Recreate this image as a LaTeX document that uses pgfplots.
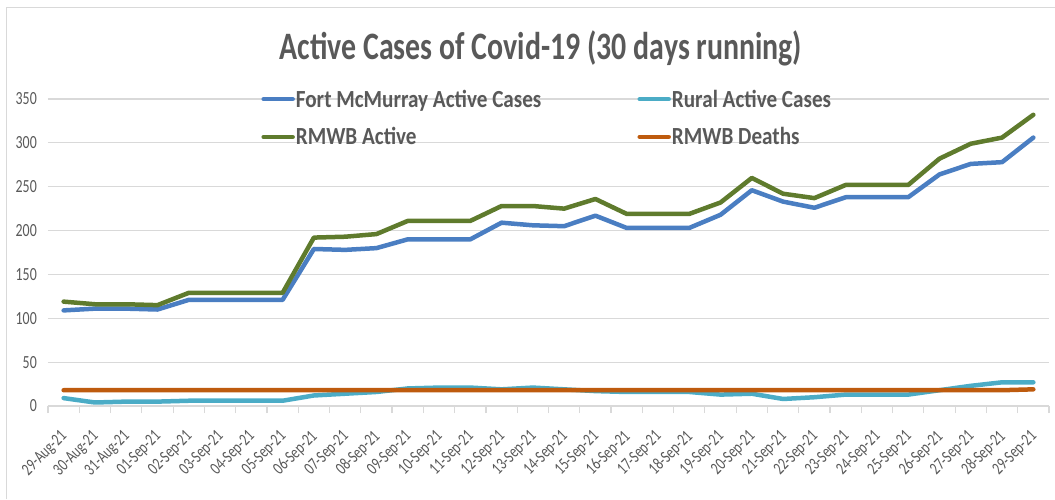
\documentclass[border=0pt]{standalone}
\usepackage{pgfplots}
\usepackage{pgfplotstable}
\pgfplotsset{compat=1.18}
\usepackage{fontspec}
\setmainfont{Carlito}
\newfontfamily\titlefont[FakeStretch=0.77]{Carlito}
\newfontfamily\legfont[FakeStretch=0.86]{Carlito}
\newfontfamily\tickfont[FakeStretch=0.75]{Carlito}
\definecolor{fmblue}{HTML}{4A7EC2}
\definecolor{rural}{HTML}{4BACC6}
\definecolor{rmgreen}{HTML}{5F7B2D}
\definecolor{death}{HTML}{BE5B0E}
\definecolor{txt}{HTML}{595959}
\definecolor{gridc}{HTML}{D9D9D9}

\pgfplotstableread{
idx fm rural rmwb deaths
0 109 9 119 18
1 111 4 116 18
2 111 5 116 18
3 110 5 115 18
4 121 6 129 18
5 121 6 129 18
6 121 6 129 18
7 121 6 129 18
8 179 12 192 18
9 178 14 193 18
10 180 16 196 18
11 190 20 211 18
12 190 21 211 18
13 190 21 211 18
14 209 19 228 18
15 206 21 228 18
16 205 19 225 18
17 217 17 236 18
18 203 16 219 18
19 203 16 219 18
20 203 16 219 18
21 218 13 232 18
22 246 14 260 18
23 233 8 242 18
24 226 10 237 18
25 238 13 252 18
26 238 13 252 18
27 238 13 252 18
28 264 18 282 18
29 276 23 299 18
30 278 27 306 18
31 306 27 332 19
}\datatable

\begin{document}
\begin{tikzpicture}[x=1pt,y=1pt]
\useasboundingbox (0,0) rectangle (1055,499);
\draw[gridc, line width=1pt] (6,0) -- (6,491) -- (1055,491);
\begin{axis}[
  at={(48pt,93pt)}, anchor=south west,
  scale only axis, width=1001pt, height=307pt,
  xmin=-0.5, xmax=31.5, ymin=0, ymax=350,
  ytick={0,50,...,350},
  xtick={0,...,31},
  xticklabels={29-Aug-21,30-Aug-21,31-Aug-21,01-Sep-21,02-Sep-21,03-Sep-21,04-Sep-21,05-Sep-21,06-Sep-21,07-Sep-21,08-Sep-21,09-Sep-21,10-Sep-21,11-Sep-21,12-Sep-21,13-Sep-21,14-Sep-21,15-Sep-21,16-Sep-21,17-Sep-21,18-Sep-21,19-Sep-21,20-Sep-21,21-Sep-21,22-Sep-21,23-Sep-21,24-Sep-21,25-Sep-21,26-Sep-21,27-Sep-21,28-Sep-21,29-Sep-21},
  minor xtick={-0.5,0.5,...,31.5},
  axis x line*=bottom, axis y line*=left,
  x axis line style={-, gridc, line width=1.3pt},
  y axis line style={draw=none},
  ymajorgrids, grid style={gridc, line width=1.2pt},
  major tick length=0pt, minor tick length=7pt, tick align=outside,
  major x tick style={draw=none},
  minor x tick style={gridc, line width=1.2pt},
  ytick style={draw=none},
  /pgf/number format/assume math mode=true,
  yticklabel style={font=\tickfont\fontsize{18.5}{20}\selectfont, text=txt, anchor=east, inner sep=0pt, xshift=-11pt},
  xticklabel style={font=\tickfont\fontsize{17.5}{19}\selectfont, text=txt, xshift=1pt, yshift=-28pt, rotate=45, anchor=east, inner sep=0pt},
  title={Active Cases of Covid-19 (30 days running)},
  title style={at={(0.4925,1.146)}, anchor=center, font=\titlefont\bfseries\fontsize{38.8}{40}\selectfont, text=txt},
  legend columns=2,
  legend style={draw=none, fill=none, at={(0.213,1.034)}, anchor=north west, inner sep=0pt,
    font=\legfont\bfseries\fontsize{24.6}{26}\selectfont, text=txt,
    nodes={inner sep=1pt},
    /tikz/every even column/.append style={column sep=95pt},
    row sep=17pt, cells={anchor=west}},
  legend image code/.code={\draw[#1] (0pt,0pt) -- (29pt,0pt);},
  every axis plot/.append style={line width=4.5pt, line join=round, line cap=round},
]
\addplot[fmblue, mark=none] table[x=idx, y=fm] {\datatable};
\addlegendentry{Fort McMurray Active Cases}
\addplot[rural, mark=none] table[x=idx, y=rural] {\datatable};
\addlegendentry{Rural Active Cases}
\addplot[rmgreen, mark=none] table[x=idx, y=rmwb] {\datatable};
\addlegendentry{RMWB Active}
\addplot[death, mark=none] table[x=idx, y=deaths] {\datatable};
\addlegendentry{RMWB Deaths}
\end{axis}
\end{tikzpicture}
\end{document}
